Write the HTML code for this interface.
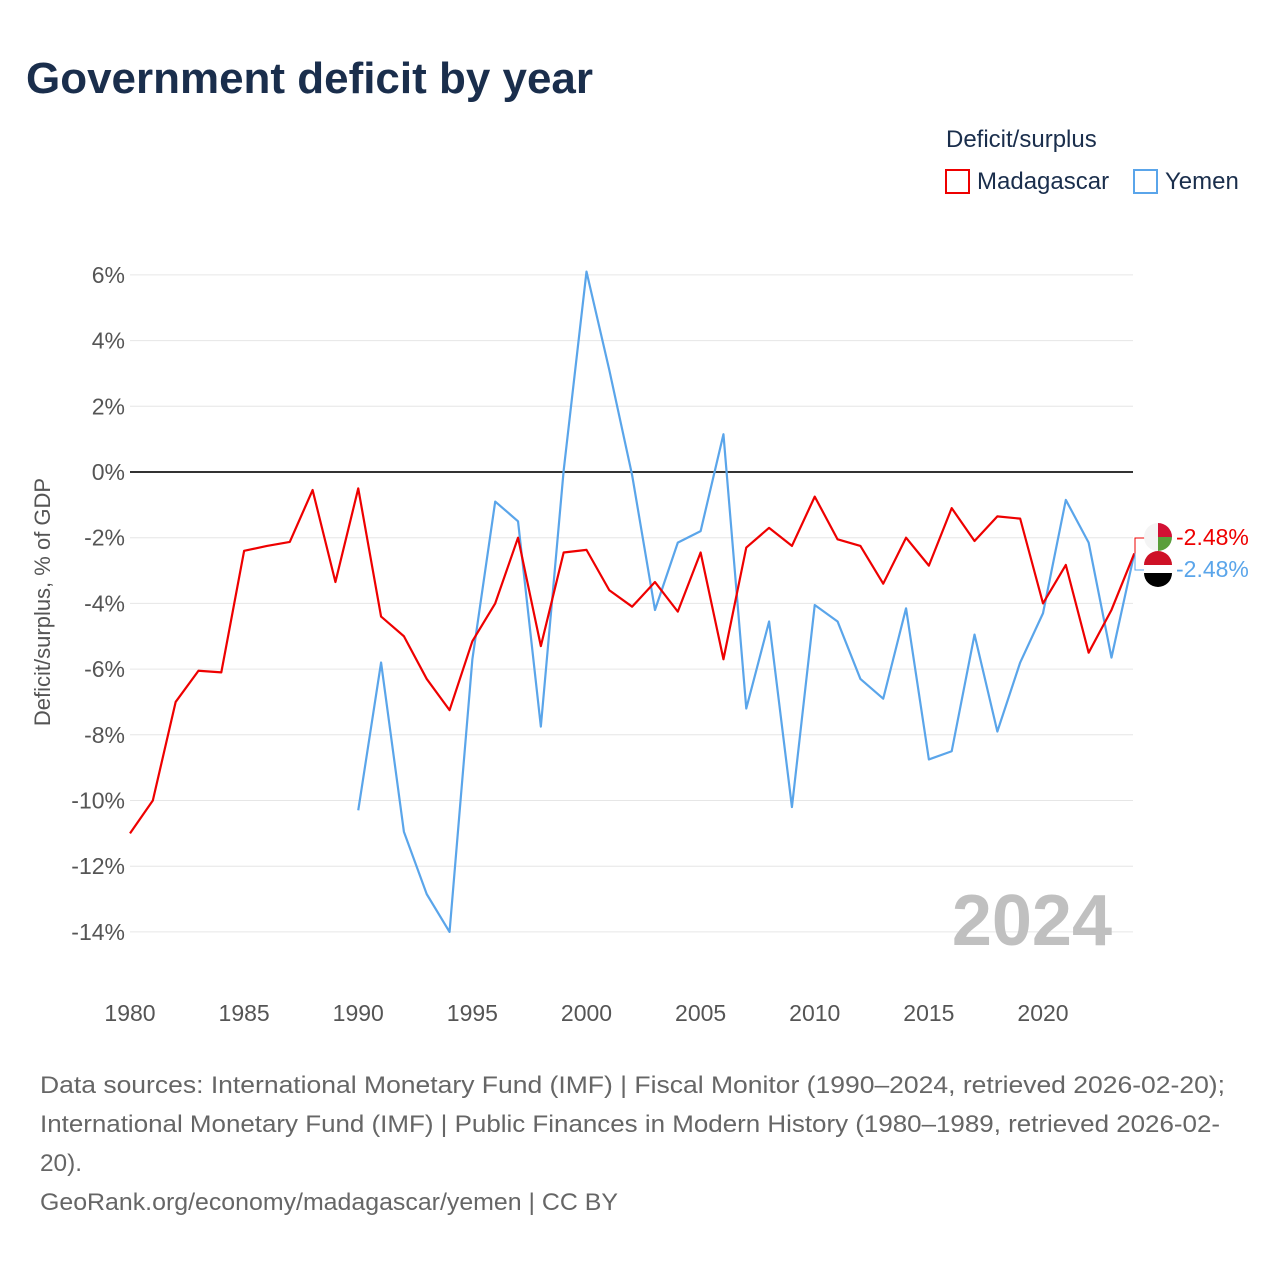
<!DOCTYPE html>
<html><head><meta charset="utf-8"><style>
body{margin:0;background:#fff;font-family:"Liberation Sans",sans-serif;}
#wrap{position:relative;width:1280px;height:1280px;overflow:hidden;}
</style></head><body>
<div id="wrap">
<svg id="chart" width="1280" height="1280">
<text x="26" y="93" font-size="44" font-weight="bold" fill="#1a2e4c" textLength="567" lengthAdjust="spacingAndGlyphs">Government deficit by year</text>
<text x="946" y="147" font-size="24" fill="#1a2e4c">Deficit/surplus</text>
<g><rect x="946" y="170" width="23" height="23" fill="none" stroke="#e00" stroke-width="2"/><text x="977" y="189" font-size="24" fill="#1a2e4c">Madagascar</text></g>
<g><rect x="1134" y="170" width="23" height="23" fill="none" stroke="#5aa5ea" stroke-width="2"/><text x="1165" y="189" font-size="24" fill="#1a2e4c">Yemen</text></g>
<g id="grid"></g><g id="axes"></g><g id="series"></g>
<text x="1112" y="945" font-size="72" font-weight="bold" fill="#c0c0c0" text-anchor="end">2024</text>
<text transform="translate(50,602) rotate(-90)" font-size="22" fill="#555" text-anchor="middle">Deficit/surplus, % of GDP</text>
<g font-size="24" fill="#666">
<text x="40" y="1093" textLength="1185" lengthAdjust="spacingAndGlyphs">Data sources: International Monetary Fund (IMF) | Fiscal Monitor (1990–2024, retrieved 2026-02-20);</text>
<text x="40" y="1132" textLength="1180" lengthAdjust="spacingAndGlyphs">International Monetary Fund (IMF) | Public Finances in Modern History (1980–1989, retrieved 2026-02-</text>
<text x="40" y="1171" textLength="42" lengthAdjust="spacingAndGlyphs">20).</text>
<text x="40" y="1210" textLength="578" lengthAdjust="spacingAndGlyphs">GeoRank.org/economy/madagascar/yemen | CC BY</text>
</g>
</svg>
</div>
<script>
const yTicks=[6,4,2,0,-2,-4,-6,-8,-10,-12,-14];
const xTicks=[1980,1985,1990,1995,2000,2005,2010,2015,2020];
const madYears=[1980,1981,1982,1983,1984,1985,1986,1987,1988,1989,1990,1991,1992,1993,1994,1995,1996,1997,1998,1999,2000,2001,2002,2003,2004,2005,2006,2007,2008,2009,2010,2011,2012,2013,2014,2015,2016,2017,2018,2019,2020,2021,2022,2023,2024];
const madValues=[-11.0,-10.0,-7.0,-6.05,-6.1,-2.4,-2.25,-2.13,-0.55,-3.35,-0.5,-4.4,-5.0,-6.3,-7.25,-5.15,-4.0,-2.0,-5.3,-2.45,-2.37,-3.6,-4.1,-3.35,-4.25,-2.45,-5.7,-2.3,-1.7,-2.25,-0.75,-2.05,-2.25,-3.4,-2.0,-2.85,-1.1,-2.1,-1.35,-1.42,-4.0,-2.83,-5.5,-4.2,-2.48];
const yemYears=[1990,1991,1992,1993,1994,1995,1996,1997,1998,1999,2000,2001,2002,2003,2004,2005,2006,2007,2008,2009,2010,2011,2012,2013,2014,2015,2016,2017,2018,2019,2020,2021,2022,2023,2024];
const yemValues=[-10.3,-5.8,-10.95,-12.85,-14.0,-5.7,-0.9,-1.5,-7.75,0.05,6.1,3.1,-0.1,-4.2,-2.15,-1.8,1.15,-7.2,-4.55,-10.2,-4.05,-4.55,-6.3,-6.9,-4.15,-8.75,-8.5,-4.95,-7.9,-5.8,-4.3,-0.85,-2.15,-5.65,-2.48];
const NS='http://www.w3.org/2000/svg';
const xS=y=>130+(y-1980)*22.825;
const yS=v=>472-v*32.85;
function mk(t,a,p){const e=document.createElementNS(NS,t);for(const k in a)e.setAttribute(k,a[k]);p.appendChild(e);return e;}
const grid=document.getElementById('grid'),axes=document.getElementById('axes'),ser=document.getElementById('series');
yTicks.forEach(v=>{
 const l=mk('line',{x1:130,x2:1133,y1:yS(v),y2:yS(v),stroke:v===0?'#333':'#e6e6e6','stroke-width':v===0?2:1},grid);
 
 
 const t=mk('text',{x:125,y:yS(v)+8,'font-size':23,fill:'#555','text-anchor':'end'},axes);t.textContent=v+'%';
 
 
});
xTicks.forEach(y=>{
 const t=mk('text',{x:xS(y),y:1021,'font-size':23,fill:'#555','text-anchor':'middle'},axes);t.textContent=y;
 
 
});
function line(ys,vs,c,name){
 const p=mk('polyline',{points:ys.map((y,i)=>xS(y)+','+yS(vs[i])).join(' '),fill:'none',stroke:c,'stroke-width':2.2,'stroke-linejoin':'round'},ser);
 
 
}
line(yemYears,yemValues,'#5aa5ea','yemen-line');
line(madYears,madValues,'#e00','madagascar-line');
const lm=madValues[madValues.length-1],ly=yemValues[yemValues.length-1];
const g1=mk('g',{},ser);


mk('path',{d:`M1135 ${yS(lm)} L1135 538 L1145 538`,stroke:'#e00',fill:'none'},g1);
mk('circle',{cx:1158,cy:537,r:14,fill:'#f4f4f4'},g1);
mk('path',{d:'M1158 523 A14 14 0 0 1 1172 537 L1158 537Z',fill:'#d21034'},g1);
mk('path',{d:'M1158 537 L1172 537 A14 14 0 0 1 1158 551Z',fill:'#5a9e3a'},g1);
let t=mk('text',{x:1176,y:545,'font-size':23,fill:'#e00'},g1);t.textContent=lm.toFixed(2)+'%';
const g2=mk('g',{},ser);


mk('path',{d:`M1135 ${yS(ly)} L1135 570 L1145 570`,stroke:'#5aa5ea',fill:'none'},g2);
mk('path',{d:'M1144 565 A14 14 0 0 1 1172 565Z',fill:'#ce1126'},g2);
mk('rect',{x:1144,y:565,width:28,height:8,fill:'#fff'},g2);
mk('path',{d:'M1144 573 A14 14 0 0 0 1172 573Z',fill:'#000'},g2);
t=mk('text',{x:1176,y:577,'font-size':23,fill:'#5aa5ea'},g2);t.textContent=ly.toFixed(2)+'%';
</script>
</body></html>
